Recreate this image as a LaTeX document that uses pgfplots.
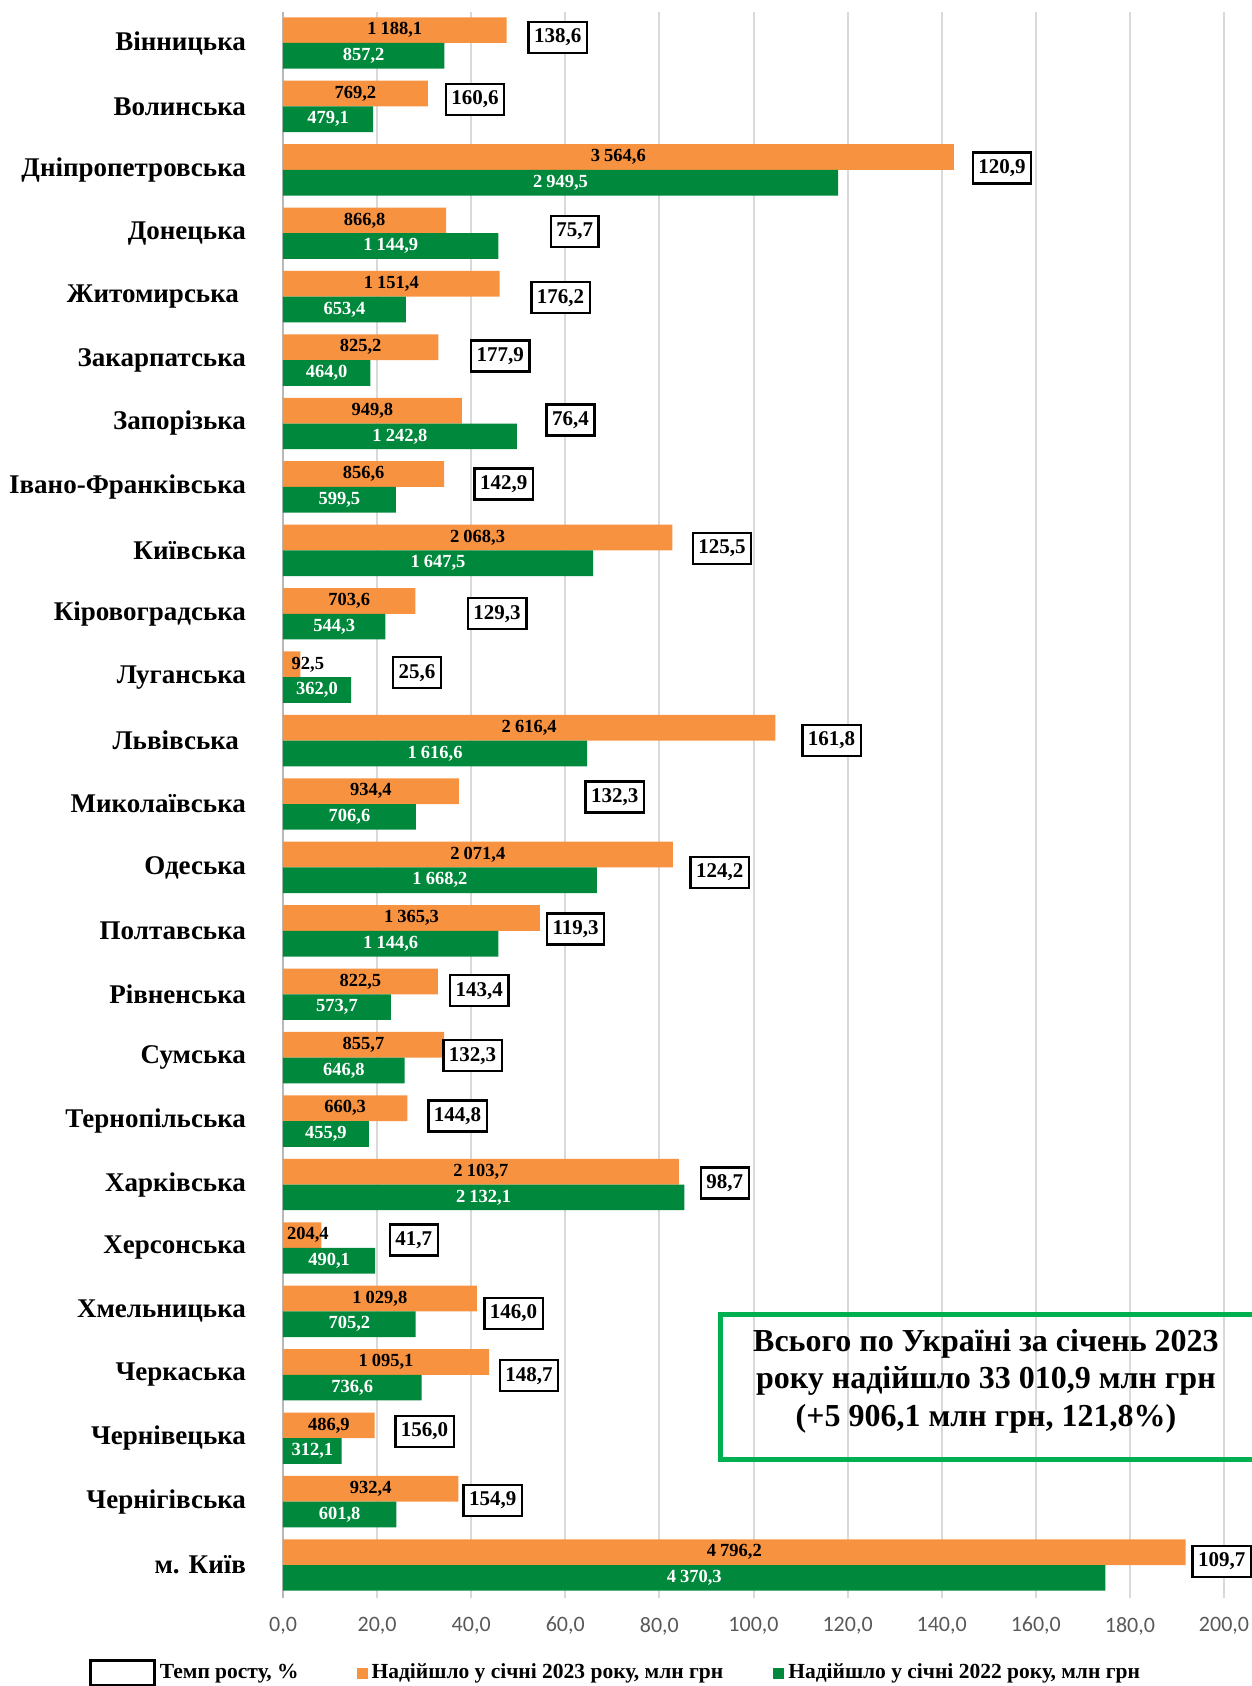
\documentclass[border=0pt]{standalone}
\usepackage{pgfplots}
\pgfplotsset{compat=1.18}
\usepackage{pgfplotstable}
\usepackage{fontspec}
\setmainfont{Liberation Serif}
\newfontfamily\tickfont{Carlito}

\definecolor{bar23}{HTML}{F79240}
\definecolor{bar22}{HTML}{00893C}
\definecolor{frame}{HTML}{00B050}
\definecolor{gridc}{HTML}{D9D9D9}
\definecolor{tickc}{HTML}{595959}

% idx: region order from the top; o = Jan 2023, g = Jan 2022 (mln UAH); r = growth, %
% bx, by: where the growth box sits (bar axis units / category units)
\pgfplotstableread{
idx o g r bx by
0 1188.1 857.2 138.6 58.4 -0.087
1 769.2 479.1 160.6 40.8 0.890
2 3564.6 2949.5 120.9 152.8 1.970
3 866.8 1144.9 75.7 62.0 2.970
4 1151.4 653.4 176.2 59.0 4.016
5 825.2 464.0 177.9 46.2 4.937
6 949.8 1242.8 76.4 61.1 5.945
7 856.6 599.5 142.9 46.9 6.953
8 2068.3 1647.5 125.5 93.3 7.970
9 703.6 544.3 129.3 45.5 9.000
10 92.5 362.0 25.6 28.5 9.930
11 2616.4 1616.6 161.8 116.6 11.000
12 934.4 706.6 132.3 70.5 11.890
13 2071.4 1668.2 124.2 92.8 13.080
14 1365.3 1144.6 119.3 62.2 13.970
15 822.5 573.7 143.4 41.7 14.945
16 855.7 646.8 132.3 40.3 15.970
17 660.3 455.9 144.8 37.1 16.920
18 2103.7 2132.1 98.7 93.9 17.976
19 204.4 490.1 41.7 27.8 18.874
20 1029.8 705.2 146.0 49.0 20.030
21 1095.1 736.6 148.7 52.3 21.016
22 486.9 312.1 156.0 30.1 21.890
23 932.4 601.8 154.9 44.6 22.984
24 4796.2 4370.3 109.7 199.5 23.945
}\regions

\begin{document}
\begin{tikzpicture}
\path[use as bounding box] (-141.5pt,-44pt) rectangle (484.5pt,799pt);
\begin{axis}[
  at={(0pt,0pt)}, anchor=south west,
  scale only axis, width=470.5pt, height=793pt,
  xmin=0, xmax=200, ymin=-0.52, ymax=24.489,
  clip=false,
  separate axis lines,
  axis x line*=bottom, axis y line*=left,
  x axis line style={draw=none},
  y axis line style={draw=gridc!85!black, line width=1pt},
  xmajorgrids, grid style={gridc, line width=1pt},
  major tick length=0pt,
  xtick={0,20,...,200},
  /pgf/number format/.cd, fixed, fixed zerofill, precision=1, use comma, assume math mode=true,
  /pgfplots/.cd,
  xticklabel style={font=\tickfont\fontsize{11}{13}\selectfont, text=tickc, yshift=-6pt},
  ytick={0,...,24},
  yticklabels={м. Київ, Чернігівська, Чернівецька, Черкаська, Хмельницька,
    Херсонська, Харківська, Тернопільська, Сумська, Рівненська, Полтавська,
    Одеська, Миколаївська, {Львівська\hspace*{3.5pt}}, Луганська, Кіровоградська,
    Київська, Івано-Франківська, Запорізька, Закарпатська,
    {Житомирська\hspace*{3.5pt}}, Донецька, Дніпропетровська, Волинська, Вінницька},
  yticklabel style={font=\fontsize{13.5}{15}\selectfont\bfseries, anchor=east, xshift=-15pt},
  legend columns=3,
  legend style={at={(axis description cs:0,0)}, anchor=west, xshift=-97pt, yshift=-37.5pt,
    draw=none, fill=none, inner sep=0pt,
    font=\fontsize{10.75}{12}\selectfont\bfseries},
  legend cell align=left,
]
% bars
\addplot[xbar, fill=bar23, draw=none, bar width=0.405, bar shift=0.2025, forget plot]
  table[x expr=\thisrow{o}/25, y expr=24-\thisrow{idx}] {\regions};
\addplot[xbar, fill=bar22, draw=none, bar width=0.405, bar shift=-0.2025, forget plot]
  table[x expr=\thisrow{g}/25, y expr=24-\thisrow{idx}] {\regions};
% value labels inside the bars
\addplot[draw=none, mark=none, forget plot, point meta=\thisrow{o},
  nodes near coords={\pgfmathprintnumber[fixed,fixed zerofill,precision=1,use comma,1000 sep={\hspace{0.22em}},assume math mode=true]{\pgfplotspointmeta}},
  nodes near coords style={anchor=center, text=black, font=\fontsize{9.25}{10}\selectfont\bfseries}]
  table[x expr={max(\thisrow{o}/50,5.3)}, y expr=24-\thisrow{idx}+0.2025] {\regions};
\addplot[draw=none, mark=none, forget plot, point meta=\thisrow{g},
  nodes near coords={\pgfmathprintnumber[fixed,fixed zerofill,precision=1,use comma,1000 sep={\hspace{0.22em}},assume math mode=true]{\pgfplotspointmeta}},
  nodes near coords style={anchor=center, text=white, font=\fontsize{9.25}{10}\selectfont\bfseries}]
  table[x expr={max(\thisrow{g}/50,5.3)}, y expr=24-\thisrow{idx}-0.2025] {\regions};
% growth boxes
\addplot[draw=none, mark=none, forget plot, point meta=\thisrow{r},
  nodes near coords={\pgfmathprintnumber[fixed,fixed zerofill,precision=1,use comma,assume math mode=true]{\pgfplotspointmeta}},
  nodes near coords style={anchor=center, draw=black, line width=1.2pt, fill=white, text=black,
    inner xsep=2.8pt, inner ysep=0pt, minimum height=15.5pt,
    font=\fontsize{10.5}{12}\selectfont\bfseries}]
  table[x=bx, y expr=24-\thisrow{by}] {\regions};

% summary note
\draw[frame, line width=2.5pt] (axis cs:93,3.95) rectangle (axis cs:215,1.66);
\node[align=center, font=\fontsize{16}{18.75}\selectfont\bfseries] at (axis cs:149.4,2.9)
  {Всього по Україні за січень 2023\\ року надійшло 33 010,9 млн грн\\ (+5 906,1 млн грн, 121,8\%)};

\addlegendimage{legend image code/.code={\draw[black, line width=1.2pt, fill=white] (0pt,-6.25pt) rectangle (32pt,6.25pt);}}
\addlegendentry{Темп росту, \%}
\addlegendimage{legend image code/.code={\path[draw=none] (-27pt,0pt) -- (0pt,0pt); \fill[bar23, draw=none] (0pt,-2.75pt) rectangle (5.5pt,2.75pt);}}
\addlegendentry{Надійшло у січні 2023 року, млн грн}
\addlegendimage{legend image code/.code={\path[draw=none] (-23pt,0pt) -- (0pt,0pt); \fill[bar22, draw=none] (0pt,-2.75pt) rectangle (5.5pt,2.75pt);}}
\addlegendentry{Надійшло у січні 2022 року, млн грн}
\end{axis}
\end{tikzpicture}
\end{document}
